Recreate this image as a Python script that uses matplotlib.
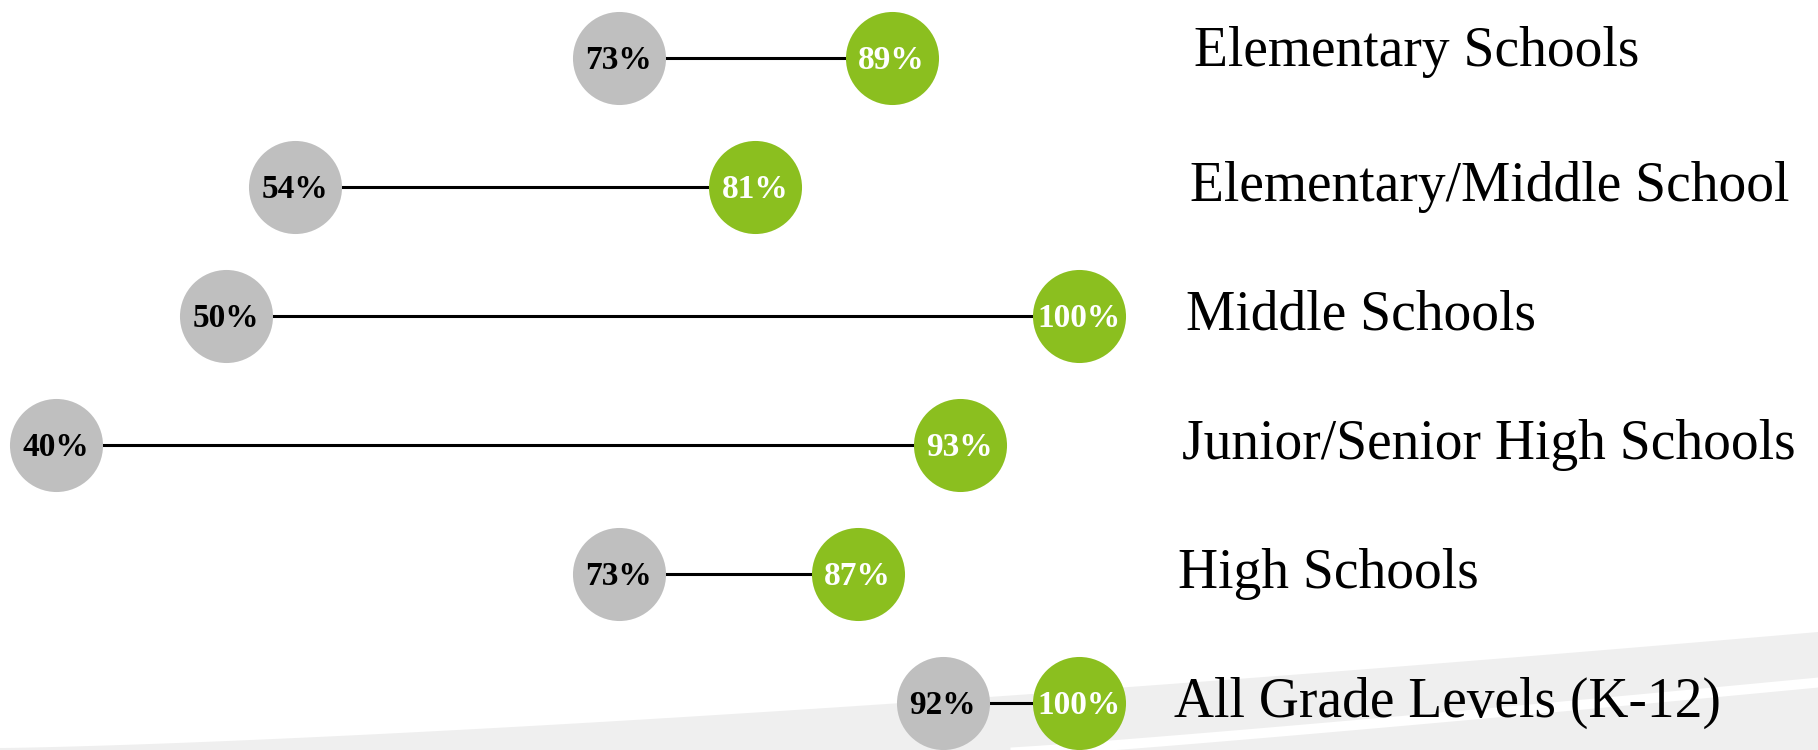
import numpy as np
import matplotlib.pyplot as plt

# data
categories = ['Elementary Schools', 'Elementary/Middle School', 'Middle Schools',
              'Junior/Senior High Schools', 'High Schools', 'All Grade Levels (K-12)']
before = [73, 54, 50, 40, 73, 92]
after = [89, 81, 100, 93, 87, 100]

gray = '#bfbfbf'
green = '#8bbf1f'

W, H = 1818, 750
fig = plt.figure(figsize=(W / 100, H / 100), dpi=100)

# background swoosh (pixel coords)
bg = fig.add_axes([0, 0, 1, 1])
bg.set_xlim(0, W)
bg.set_ylim(H, 0)
bg.axis('off')
xs = np.linspace(0, W, 300)
top = 748 - 116 * (xs / W) ** 1.35
bg.fill_between(xs, top, H, color='#efefef', lw=0)
xw = np.linspace(1010, W, 200)
t = (xw - 1010) / (W - 1010)
wmid = 752 - 70 * t ** 1.1
bg.fill_between(xw, wmid - 5, wmid + 5, color='white', lw=0)

ax = fig.add_axes([0, 0, 1, 1], facecolor='none')
ppx = 17.06
x0 = 40 - 55.7 / ppx
ax.set_xlim(x0, x0 + W / ppx)
ax.set_ylim((H - 58) / 129, -58 / 129)
ax.axis('off')

y = np.arange(len(categories))
ax.hlines(y, before, after, color='black', lw=2.2, zorder=1)
ax.scatter(before, y, s=67 ** 2, color=gray, zorder=2, lw=0)
ax.scatter(after, y, s=67 ** 2, color=green, zorder=2, lw=0)

for i in range(len(categories)):
    ax.text(before[i], y[i] + 0.02, f'{before[i]}%', ha='center', va='center',
            fontsize=24, fontweight='bold', family='Liberation Serif', color='black', zorder=3)
    ax.text(after[i], y[i] + 0.02, f'{after[i]}%', ha='center', va='center',
            fontsize=24, fontweight='bold', family='Liberation Serif', color='white', zorder=3)
    lx = (1194 - 4 * i) / ppx + x0
    ly = y[i] - (0.05 if i == 0 else 0.0)
    ax.text(lx, ly, categories[i], ha='left', va='center',
            fontsize=40, family='Liberation Serif', color='black')

fig.savefig('out.png', dpi=100)
